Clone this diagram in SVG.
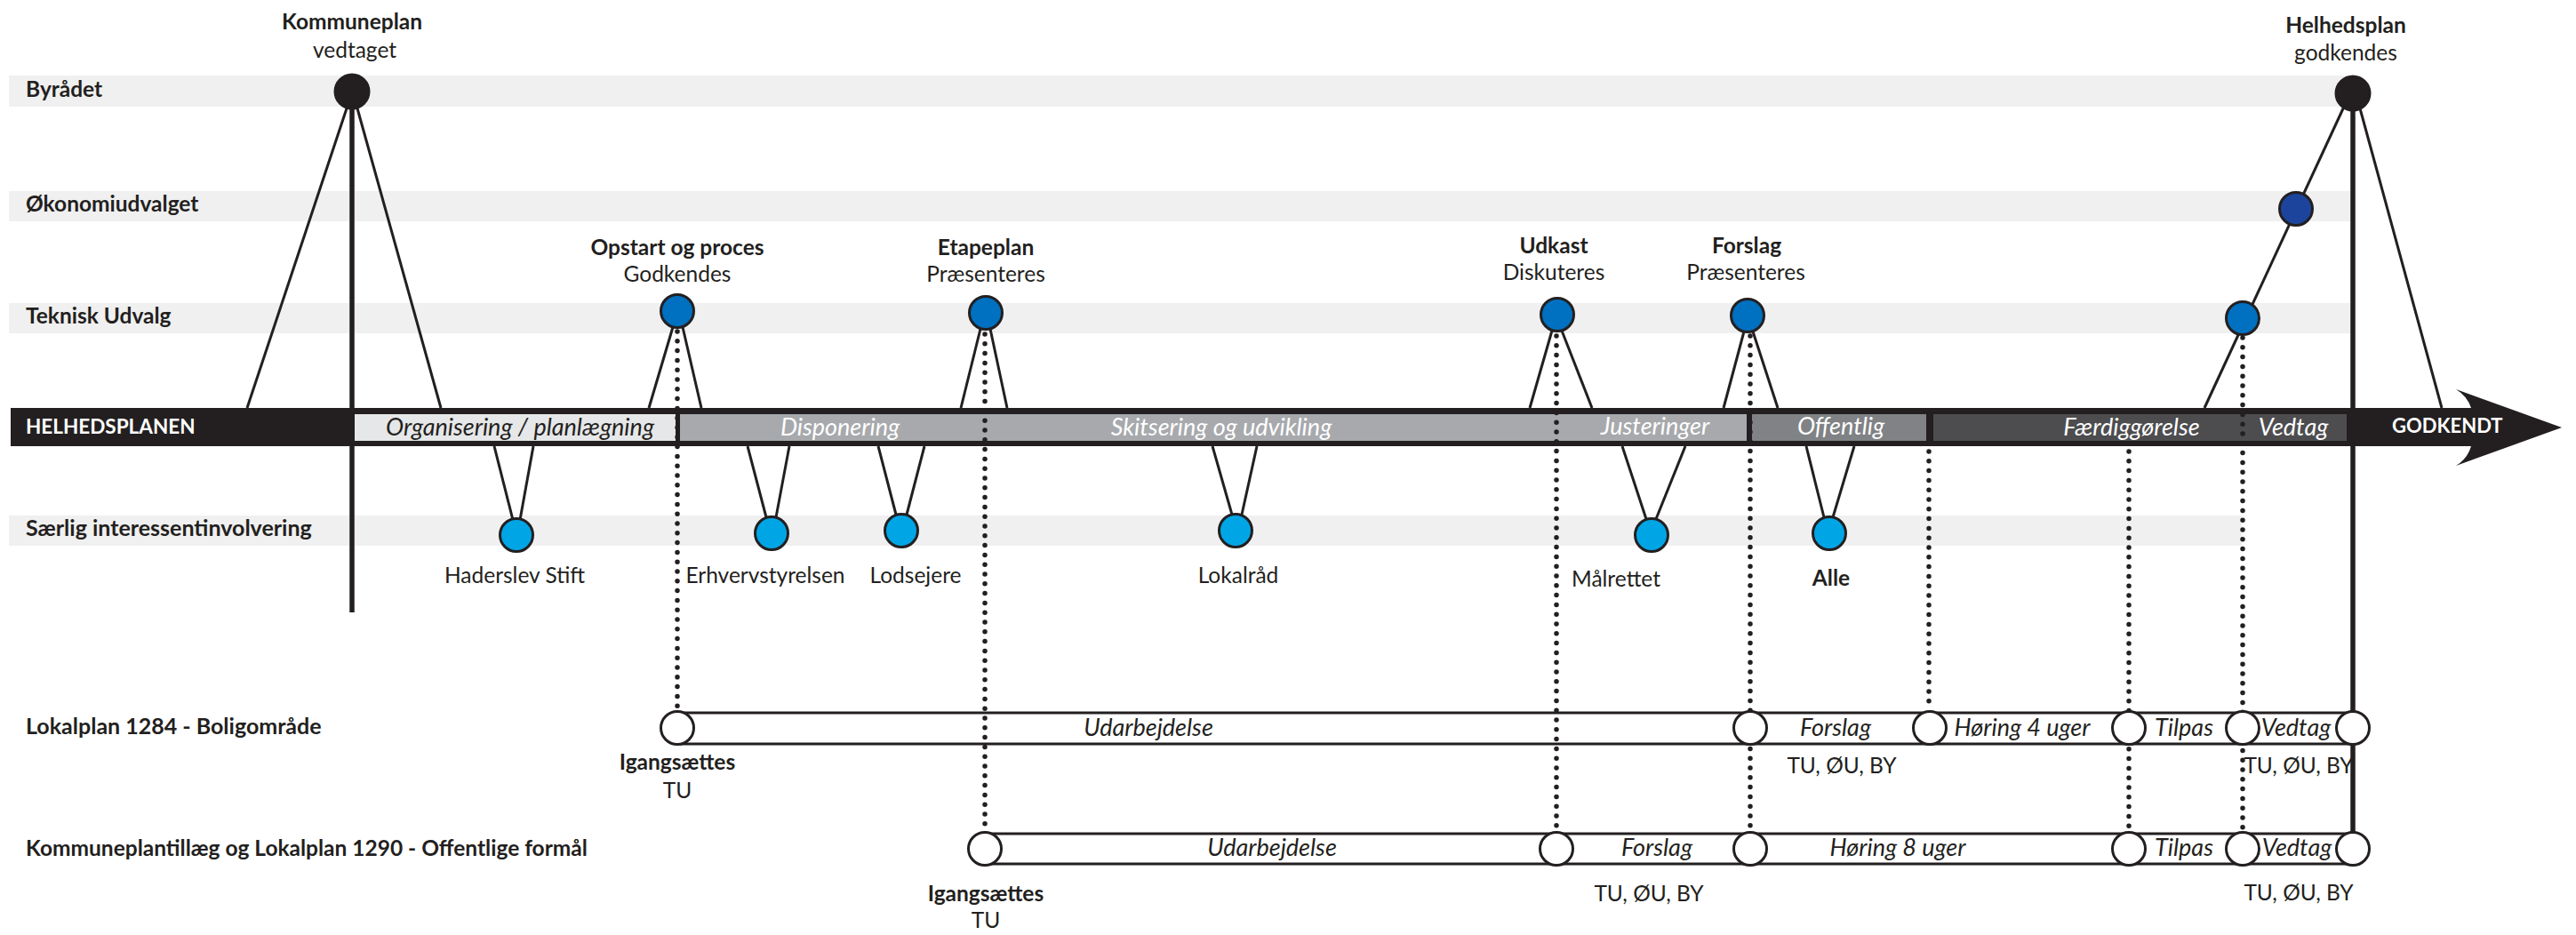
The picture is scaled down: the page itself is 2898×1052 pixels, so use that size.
<svg xmlns="http://www.w3.org/2000/svg" width="2898" height="1052" viewBox="0 0 2898 1052">
<style>
text{font-family:Lato,"Open Sans","Liberation Sans",sans-serif;fill:#231f20;font-size:24.5px}
.b{font-weight:bold}
.c{text-anchor:middle}
.i{font-style:italic;font-size:27px}
.w{fill:#ffffff}
.band{fill:#f0f0f0}
.ln{stroke:#231f20;stroke-width:3;fill:none}
.thick{stroke:#231f20;stroke-width:5.5;fill:none}
.dot{stroke:#231f20;stroke-width:5.5;stroke-linecap:round;stroke-dasharray:0 10.8;fill:none}
.n{stroke:#231f20;stroke-width:3}
.blk{fill:#231f20}
.tu{fill:#0070c0}
.oe{fill:#1c449c}
.si{fill:#00a5e5}
.wc{fill:#ffffff}
</style>
<g id="bands">
<rect class="band" x="10" y="85" width="2635" height="35"/>
<rect class="band" x="10" y="215" width="2635" height="34"/>
<rect class="band" x="10" y="341" width="2635" height="34"/>
<rect class="band" x="10" y="580" width="2512" height="34"/>
</g>
<g id="lane-labels">
<text class="b" x="29" y="109">Byrådet</text>
<text class="b" x="29" y="238">Økonomiudvalget</text>
<text class="b" x="29" y="364">Teknisk Udvalg</text>
<text class="b" x="29" y="603" style="font-size:25px">Særlig interessentinvolvering</text>
<text class="b" x="29" y="826" style="font-size:25px">Lokalplan 1284 - Boligområde</text>
<text class="b" x="29" y="963">Kommuneplantillæg og Lokalplan 1290 - Offentlige formål</text>
</g>
<g id="connectors">
<line class="ln" x1="390" y1="122" x2="278" y2="459"/>
<line class="ln" x1="402" y1="122" x2="496" y2="459"/>
<line class="thick" x1="396" y1="103" x2="396" y2="689"/>
<line class="ln" x1="2655" y1="122" x2="2747" y2="459"/>
<line class="ln" x1="2637" y1="120" x2="2480" y2="459"/>
<line class="thick" x1="2647" y1="105" x2="2647" y2="955"/>
<line class="ln" x1="757" y1="368" x2="730" y2="459"/>
<line class="ln" x1="768" y1="368" x2="789" y2="459"/>
<line class="ln" x1="1103" y1="370" x2="1081" y2="459"/>
<line class="ln" x1="1114" y1="370" x2="1133" y2="459"/>
<line class="ln" x1="1746" y1="372" x2="1721" y2="459"/>
<line class="ln" x1="1757" y1="372" x2="1791" y2="459"/>
<line class="ln" x1="1962" y1="373" x2="1939" y2="459"/>
<line class="ln" x1="1972" y1="373" x2="2000" y2="459"/>
<line class="ln" x1="577" y1="585" x2="556" y2="502"/>
<line class="ln" x1="585" y1="585" x2="600" y2="502"/>
<line class="ln" x1="862" y1="582" x2="841" y2="502"/>
<line class="ln" x1="873" y1="582" x2="888" y2="502"/>
<line class="ln" x1="1008" y1="579" x2="988" y2="502"/>
<line class="ln" x1="1020" y1="579" x2="1040" y2="502"/>
<line class="ln" x1="1386" y1="579" x2="1364" y2="502"/>
<line class="ln" x1="1397" y1="579" x2="1414" y2="502"/>
<line class="ln" x1="1852" y1="584" x2="1825" y2="502"/>
<line class="ln" x1="1863" y1="584" x2="1896" y2="502"/>
<line class="ln" x1="2052" y1="582" x2="2032" y2="502"/>
<line class="ln" x1="2062" y1="582" x2="2086" y2="502"/>
<line class="ln" x1="762" y1="802" x2="2647" y2="802"/>
<line class="ln" x1="762" y1="837" x2="2647" y2="837"/>
<line class="ln" x1="1108" y1="938" x2="2647" y2="938"/>
<line class="ln" x1="1108" y1="972" x2="2647" y2="972"/>
</g>
<g id="timeline">
<path class="blk" d="M12,459 H2780 Q2776,446 2763,438 L2882,481 L2763,524 Q2776,516 2780,502 H12 Z"/>
<rect x="399" y="466" width="361" height="30" fill="#e6e7e8"/>
<rect x="765" y="466" width="1200" height="30" fill="#a7a9ac"/>
<rect x="1971" y="466" width="196" height="30" fill="#808285"/>
<rect x="2175" y="466" width="465" height="30" fill="#4d4d4f"/>
<text class="b w" x="29" y="488" style="font-size:22.5px">HELHEDSPLANEN</text>
<text class="b w" x="2691" y="487" style="font-size:22px">GODKENDT</text>
<text class="i c" x="585" y="490">Organisering / planlægning</text>
<text class="i c w" x="945" y="490">Disponering</text>
<text class="i c w" x="1374" y="490">Skitsering og udvikling</text>
<text class="i c w" x="1862" y="489">Justeringer</text>
<text class="i c w" x="2071" y="489">Offentlig</text>
<text class="i c w" x="2398" y="490">Færdiggørelse</text>
<text class="i c w" x="2580" y="490">Vedtag</text>
</g>
<g id="dotted">
<line class="dot" x1="762" y1="373" x2="762" y2="798"/>
<line class="dot" x1="1108" y1="376" x2="1108" y2="934"/>
<line class="dot" x1="1751" y1="378" x2="1751" y2="934"/>
<line class="dot" x1="1969" y1="378" x2="1969" y2="934"/>
<line class="dot" x1="2170" y1="508" x2="2170" y2="798"/>
<line class="dot" x1="2395" y1="508" x2="2395" y2="934"/>
<line class="dot" x1="2523" y1="380" x2="2523" y2="934"/>
</g>
<g id="node-kommuneplan">
<circle class="n blk" cx="396" cy="103" r="19"/>
<text class="b c" x="396" y="33">Kommuneplan</text>
<text class="c" x="399" y="65">vedtaget</text>
</g>
<g id="node-helhedsplan">
<circle class="n blk" cx="2647" cy="105" r="19"/>
<text class="b c" x="2639" y="37">Helhedsplan</text>
<text class="c" x="2639" y="68">godkendes</text>
</g>
<g id="node-oekonomi">
<circle class="n oe" cx="2583" cy="235" r="18.5"/>
</g>
<g id="node-opstart">
<circle class="n tu" cx="762" cy="350" r="18.5"/>
<text class="b c" x="762" y="287">Opstart og proces</text>
<text class="c" x="762" y="317">Godkendes</text>
</g>
<g id="node-etapeplan">
<circle class="n tu" cx="1109" cy="352" r="18.5"/>
<text class="b c" x="1109" y="287">Etapeplan</text>
<text class="c" x="1109" y="317">Præsenteres</text>
</g>
<g id="node-udkast">
<circle class="n tu" cx="1752" cy="354" r="18.5"/>
<text class="b c" x="1748" y="285">Udkast</text>
<text class="c" x="1748" y="315">Diskuteres</text>
</g>
<g id="node-forslag">
<circle class="n tu" cx="1966" cy="355" r="18.5"/>
<text class="b c" x="1965" y="285">Forslag</text>
<text class="c" x="1964" y="315">Præsenteres</text>
</g>
<g id="node-tu-final">
<circle class="n tu" cx="2523" cy="358" r="18.5"/>
</g>
<g id="node-haderslev">
<circle class="n si" cx="581" cy="602" r="18.5"/>
<text class="c" x="579" y="656">Haderslev Stift</text>
</g>
<g id="node-erhverv">
<circle class="n si" cx="868" cy="600" r="18.5"/>
<text class="c" x="861" y="656">Erhvervstyrelsen</text>
</g>
<g id="node-lodsejere">
<circle class="n si" cx="1014" cy="597" r="18.5"/>
<text class="c" x="1030" y="656">Lodsejere</text>
</g>
<g id="node-lokalraad">
<circle class="n si" cx="1390" cy="597" r="18.5"/>
<text class="c" x="1393" y="656">Lokalråd</text>
</g>
<g id="node-maalrettet">
<circle class="n si" cx="1858" cy="602" r="18.5"/>
<text class="c" x="1818" y="660">Målrettet</text>
</g>
<g id="node-alle">
<circle class="n si" cx="2058" cy="600" r="18.5"/>
<text class="b c" x="2060" y="659">Alle</text>
</g>
<g id="row-lokalplan-1284">
<circle class="n wc" cx="762" cy="819" r="18.5"/>
<circle class="n wc" cx="1969" cy="819" r="18.5"/>
<circle class="n wc" cx="2171" cy="819" r="18.5"/>
<circle class="n wc" cx="2395" cy="819" r="18.5"/>
<circle class="n wc" cx="2523" cy="819" r="18.5"/>
<circle class="n wc" cx="2647" cy="819" r="18.5"/>
<text class="i c" x="1292" y="828">Udarbejdelse</text>
<text class="i c" x="2065" y="828">Forslag</text>
<text class="i c" x="2275" y="828">Høring 4 uger</text>
<text class="i c" x="2457" y="828">Tilpas</text>
<text class="i c" x="2583" y="828">Vedtag</text>
<text class="b c" x="762" y="866">Igangsættes</text>
<text class="c" x="762" y="898">TU</text>
<text class="c" x="2072" y="870">TU, ØU, BY</text>
<text class="c" x="2586" y="870">TU, ØU, BY</text>
</g>
<g id="row-lokalplan-1290">
<circle class="n wc" cx="1108" cy="955" r="18.5"/>
<circle class="n wc" cx="1751" cy="955" r="18.5"/>
<circle class="n wc" cx="1969" cy="955" r="18.5"/>
<circle class="n wc" cx="2395" cy="955" r="18.5"/>
<circle class="n wc" cx="2523" cy="955" r="18.5"/>
<circle class="n wc" cx="2647" cy="955" r="18.5"/>
<text class="i c" x="1431" y="963">Udarbejdelse</text>
<text class="i c" x="1864" y="963">Forslag</text>
<text class="i c" x="2135" y="963">Høring 8 uger</text>
<text class="i c" x="2457" y="963">Tilpas</text>
<text class="i c" x="2584" y="963">Vedtag</text>
<text class="b c" x="1109" y="1014">Igangsættes</text>
<text class="c" x="1109" y="1044">TU</text>
<text class="c" x="1855" y="1014">TU, ØU, BY</text>
<text class="c" x="2586" y="1013">TU, ØU, BY</text>
</g>
</svg>
